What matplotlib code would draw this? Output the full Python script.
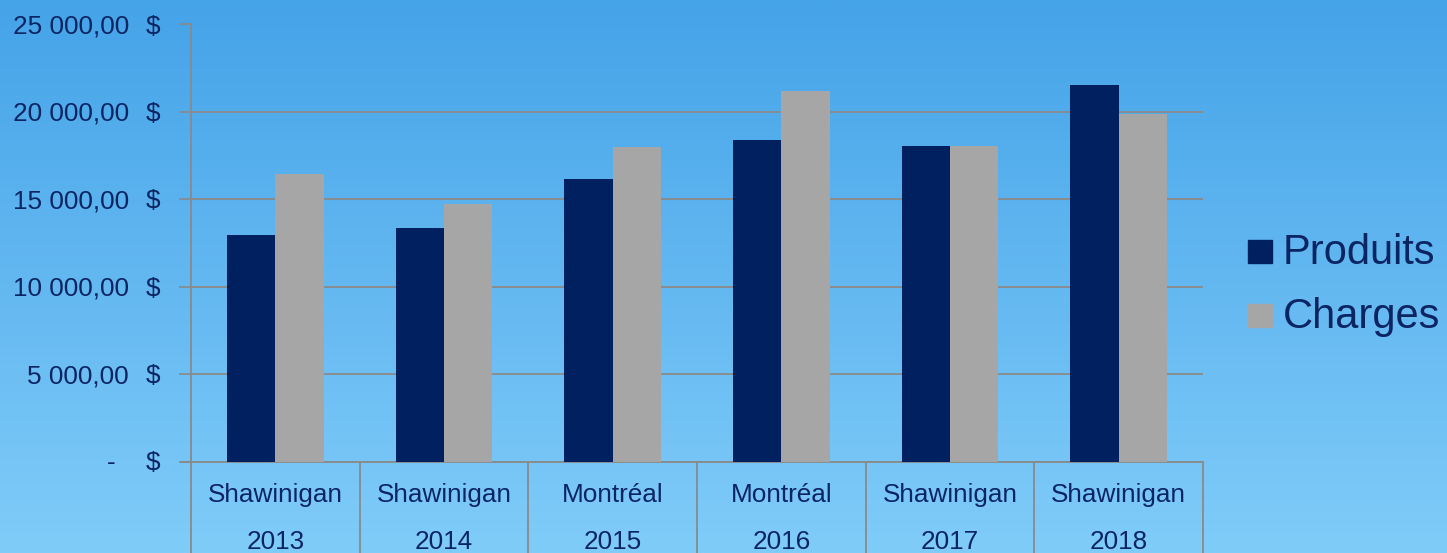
import numpy as np
import matplotlib
matplotlib.use("Agg")
import matplotlib.pyplot as plt
from matplotlib import transforms
from matplotlib.patches import Rectangle
from matplotlib.colors import LinearSegmentedColormap

# data
villes = ["Shawinigan", "Shawinigan", "Montréal", "Montréal", "Shawinigan", "Shawinigan"]
annees = ["2013", "2014", "2015", "2016", "2017", "2018"]
produits = [12950, 13350, 16160, 18390, 18070, 21540]
charges = [16470, 14750, 17990, 21200, 18070, 19880]
yticks = [0, 5000, 10000, 15000, 20000, 25000]
ytick_labels = ["-", "5 000,00", "10 000,00", "15 000,00", "20 000,00", "25 000,00"]
series_names = ["Produits", "Charges"]

W, H = 1447, 553
navy = "#002060"
grey = "#A6A6A6"
txt = "#0B2563"
gridc = "#8A8A8A"

plt.rcParams["font.family"] = ["Liberation Sans", "DejaVu Sans"]

fig = plt.figure(figsize=(W / 100, H / 100), dpi=100)

# gradient background
bg = fig.add_axes([0, 0, 1, 1])
cmap = LinearSegmentedColormap.from_list("bg", ["#45A3E8", "#80CCF9"])
grad = np.linspace(0, 1, 256).reshape(-1, 1)
bg.imshow(grad, aspect="auto", cmap=cmap, extent=[0, 1, 0, 1], origin="upper")
bg.axis("off")

left, right, top, bottom = 191, 1203, 24.5, 461.5
ax = fig.add_axes([left / W, 1 - bottom / H, (right - left) / W, (bottom - top) / H])
ax.patch.set_alpha(0)

x = np.arange(len(annees))
w = 0.2875
ax.bar(x - w / 2, produits, w, color=navy, zorder=3)
ax.bar(x + w / 2, charges, w, color=grey, zorder=3)

ax.set_xlim(-0.5, len(annees) - 0.5)
ax.set_ylim(0, 25000)
ax.set_xticks([])
ax.set_yticks(yticks)
ax.set_yticklabels([])
ax.tick_params(axis="y", length=9, width=1.2, color=gridc)
ax.yaxis.grid(True, color=gridc, linewidth=1.3, zorder=0)
for s in ["top", "right"]:
    ax.spines[s].set_visible(False)
ax.spines["left"].set_color(gridc)
ax.spines["left"].set_linewidth(1.3)
ax.spines["bottom"].set_color(gridc)
ax.spines["bottom"].set_linewidth(1.3)

# zero line extends over the tick
ax.plot([-0.5 - 9 / ((right - left) / 6), -0.5], [0, 0], color=gridc, lw=1.3, clip_on=False)

# y tick labels (accounting style)
off = transforms.ScaledTranslation(0, -9 / 100, fig.dpi_scale_trans)
ytr = transforms.blended_transform_factory(fig.transFigure, ax.transData) + off
for v, lab in zip(yticks, ytick_labels):
    xr = 116 if lab == "-" else 129
    ax.text(xr / W, v, lab, transform=ytr, ha="right", va="baseline", fontsize=18.8, color=txt)
    ax.text(160 / W, v, "$", transform=ytr, ha="right", va="baseline", fontsize=18.8, color=txt)

# category boxes and labels
xtr = transforms.blended_transform_factory(ax.transData, fig.transFigure)
for b in np.arange(-0.5, len(annees), 1.0):
    ax.plot([b, b], [0, 1 - bottom / H], transform=xtr, color=gridc, lw=1.3, clip_on=False)
for i in range(len(annees)):
    ax.text(x[i], 1 - 502 / H, villes[i], transform=xtr, ha="center", va="baseline", fontsize=18.8, color=txt)
    ax.text(x[i], 1 - 549 / H, annees[i], transform=xtr, ha="center", va="baseline", fontsize=18.8, color=txt)

# legend
for name, col, yc, ybase in [(series_names[0], navy, 251.5, 264), (series_names[1], grey, 315, 328)]:
    fig.patches.append(Rectangle((1248 / W, 1 - (yc + 11.5) / H), 24 / W, 23 / H,
                                 transform=fig.transFigure, color=col, zorder=5))
    fig.text(1283 / W, 1 - ybase / H, name, ha="left", va="baseline", fontsize=30, color=txt)

fig.savefig("out.png", dpi=100)
